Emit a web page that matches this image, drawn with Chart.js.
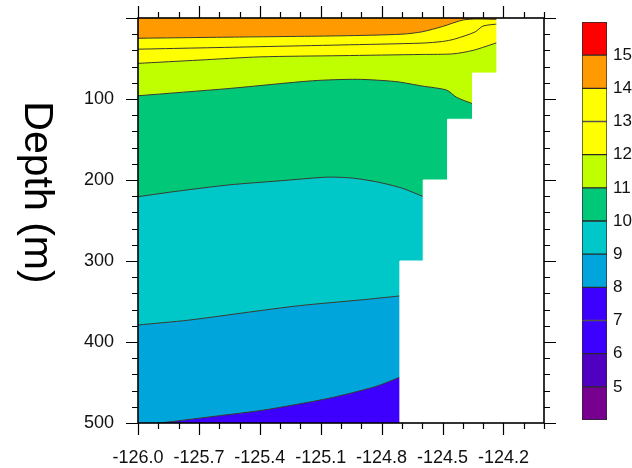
<!DOCTYPE html>
<html>
<head>
<meta charset="utf-8">
<script src="https://cdn.jsdelivr.net/npm/chart.js@4.4.0/dist/chart.umd.min.js"></script>
<style>
body { margin: 0; background: #fff; }
#wrap { position: relative; width: 632px; height: 468px; }
#depthChart { position: absolute; left: 0; top: 0; }
#barChart { position: absolute; left: 572px; top: 0; }
</style>
</head>
<body>
<div id="wrap">
<canvas id="depthChart" width="632" height="468"></canvas>
<canvas id="barChart" width="60" height="468"></canvas>
</div>
<script>
// axis ranges and labels
var lonMin = -126, lonMax = -124;
var depthMin = 0, depthMax = 500;
var lonTicks = [-126.0, -125.7, -125.4, -125.1, -124.8, -124.5, -124.2];
var depthTicks = [100, 200, 300, 400, 500];
var yTitle = 'Depth (m)';

// colour levels (bottom band is below 5, top band above 15)
var levels = [5, 6, 7, 8, 9, 10, 11, 12, 13, 14, 15];
var cbEdges = [4, 5, 6, 7, 8, 9, 10, 11, 12, 13, 14, 15, 16];
var bandColors = ['#780090', '#5000C0', '#3D00FF', '#3D00FF', '#00A5DC', '#00C8C8',
                  '#00C878', '#BFFF00', '#FFFF00', '#FFFF00', '#FF9A00', '#FF0000'];

// contour lines, [longitude, depth]
var surface = [[-126, 0], [-124, 0]];
var c14 = [[-126, 25], [-125.5, 23.5], [-125, 22], [-124.7, 20], [-124.6, 17], [-124.5, 10.5],
           [-124.4, 2.5], [-124.33, 1.2], [-124.22, 1.8]];
var c13 = [[-126, 38.5], [-125.4, 35.4], [-125, 33.3], [-124.6, 31], [-124.5, 29], [-124.44, 26],
           [-124.34, 17.3], [-124.3, 9.9], [-124.22, 7.2]];
var c12 = [[-126, 56], [-125.7, 52], [-125.4, 48], [-125, 46.5], [-124.6, 45], [-124.45, 44.3],
           [-124.35, 40], [-124.22, 29.5]];
var c11 = [[-126, 96], [-125.55, 87], [-125.14, 77.5], [-124.92, 75.7], [-124.73, 78.5],
           [-124.6, 84], [-124.48, 89], [-124.43, 98], [-124.345, 106.5]];
var c10 = [[-126, 220.6], [-125.8, 213.6], [-125.55, 206], [-125.3, 201], [-125.07, 196.5],
           [-124.95, 197.5], [-124.83, 202], [-124.7, 210], [-124.59, 221]];
var c9 = [[-126, 379], [-125.75, 373], [-125.45, 363], [-125.2, 355], [-124.9, 348], [-124.705, 343]];
var c8 = [[-126, 503], [-125.89, 500], [-125.6, 491], [-125.38, 484], [-125.06, 469.5],
          [-124.83, 455], [-124.705, 443]];
var land = [[-124.71, 500], [-124.71, 300], [-124.595, 300], [-124.595, 200], [-124.475, 200],
            [-124.475, 125], [-124.352, 125], [-124.352, 68], [-124.232, 68], [-124.232, 0], [-124, 0]];

var toPts = function(arr) {
    return arr.map(function(p) { return {x: p[0], y: p[1]}; });
};

var contour = function(line, level) {
    return {
        data: toPts(line),
        showLine: true,
        pointRadius: 0,
        borderColor: '#3a3a30',
        borderWidth: 1,
        tension: 0.25,
        fill: 'start',
        backgroundColor: bandColors[level - 5]
    };
};

var frameTicks = {
    id: 'frameTicks',
    afterDraw: function(chart) {
        var ctx = chart.ctx, a = chart.chartArea;
        var xs = chart.scales.x, ys = chart.scales.y;
        ctx.save();
        ctx.strokeStyle = '#000';
        ctx.lineWidth = 1.2;
        ctx.beginPath();
        for (var i = 0; i <= 20; i++) {
            var px = Math.round(xs.getPixelForValue(lonMin + i * 0.1)) + 0.5;
            var len = i % 3 === 0 ? 12 : 6;
            ctx.moveTo(px, a.bottom); ctx.lineTo(px, a.bottom + len);
            ctx.moveTo(px, a.top); ctx.lineTo(px, a.top - len);
        }
        for (var d = depthMin; d <= depthMax; d += 20) {
            var py = Math.round(ys.getPixelForValue(d)) + 0.5;
            var l2 = d % 100 === 0 ? 12 : 6;
            ctx.moveTo(a.left, py); ctx.lineTo(a.left - l2, py);
            ctx.moveTo(a.right, py); ctx.lineTo(a.right + l2, py);
        }
        ctx.stroke();
        ctx.lineWidth = 1.6;
        ctx.strokeRect(a.left, a.top, a.right - a.left, a.bottom - a.top);

        ctx.translate(25, 192.5);
        ctx.rotate(Math.PI / 2);
        ctx.font = '41px "Liberation Sans"';
        ctx.fillStyle = '#000';
        ctx.textAlign = 'center';
        ctx.textBaseline = 'alphabetic';
        ctx.fillText(yTitle, 0, 0);
        ctx.restore();
    }
};

var labelFont = {family: '"Liberation Sans"', size: 18};

var depthChart = new Chart(document.getElementById('depthChart'), {
    type: 'scatter',
    data: {
        datasets: [
            {data: toPts(land), showLine: true, pointRadius: 0, borderColor: '#fff', borderWidth: 1,
             fill: 'start', backgroundColor: '#fff'},
            contour(c8, 8),
            contour(c9, 9),
            contour(c10, 10),
            contour(c11, 11),
            contour(c12, 12),
            contour(c13, 13),
            contour(c14, 14),
            {data: toPts(surface), showLine: true, pointRadius: 0, borderColor: 'rgba(0,0,0,0)',
             fill: 'start', backgroundColor: bandColors[10]}
        ]
    },
    options: {
        responsive: false,
        animation: false,
        events: [],
        layout: {padding: {top: 18, right: 88, left: 0, bottom: 0}},
        plugins: {
            legend: {display: false},
            tooltip: {enabled: false},
            filler: {drawTime: 'beforeDatasetDraw'}
        },
        scales: {
            x: {
                type: 'linear',
                min: lonMin,
                max: lonMax,
                afterBuildTicks: function(scale) {
                    scale.ticks = lonTicks.map(function(v) { return {value: v}; });
                },
                afterFit: function(scale) {
                    scale.height = 45;
                    scale.paddingLeft = 0;
                    scale.paddingRight = 0;
                },
                grid: {display: false, drawTicks: false},
                border: {display: false},
                ticks: {
                    autoSkip: false,
                    maxRotation: 0,
                    padding: 24,
                    color: '#111',
                    font: labelFont,
                    callback: function(v) { return v.toFixed(1); }
                }
            },
            y: {
                type: 'linear',
                reverse: true,
                min: depthMin,
                max: depthMax,
                afterBuildTicks: function(scale) {
                    scale.ticks = depthTicks.map(function(v) { return {value: v}; });
                },
                afterFit: function(scale) {
                    scale.width = 138;
                    scale.paddingTop = 0;
                    scale.paddingBottom = 0;
                },
                grid: {display: false, drawTicks: false},
                border: {display: false},
                ticks: {autoSkip: false, padding: 24, color: '#111', font: labelFont}
            }
        }
    },
    plugins: [frameTicks]
});

var barChart = new Chart(document.getElementById('barChart'), {
    type: 'bar',
    data: {
        labels: [''],
        datasets: bandColors.map(function(c, i) {
            return {
                data: [[cbEdges[i], cbEdges[i + 1]]],
                backgroundColor: c,
                borderColor: '#2a2a2a',
                borderWidth: 1,
                borderSkipped: false,
                grouped: false,
                barPercentage: 1,
                categoryPercentage: 1
            };
        })
    },
    options: {
        responsive: false,
        animation: false,
        events: [],
        layout: {padding: {left: 10, top: 22, bottom: 48, right: 0}},
        plugins: {legend: {display: false}, tooltip: {enabled: false}},
        scales: {
            x: {display: false},
            y: {
                position: 'right',
                min: cbEdges[0],
                max: cbEdges[cbEdges.length - 1],
                afterBuildTicks: function(scale) {
                    scale.ticks = levels.map(function(v) { return {value: v}; });
                },
                afterFit: function(scale) { scale.width = 25; },
                grid: {display: false, drawTicks: false},
                border: {display: false},
                ticks: {autoSkip: false, padding: 6, color: '#111', font: {family: '"Liberation Sans"', size: 17}}
            }
        }
    }
});
</script>
</body>
</html>
